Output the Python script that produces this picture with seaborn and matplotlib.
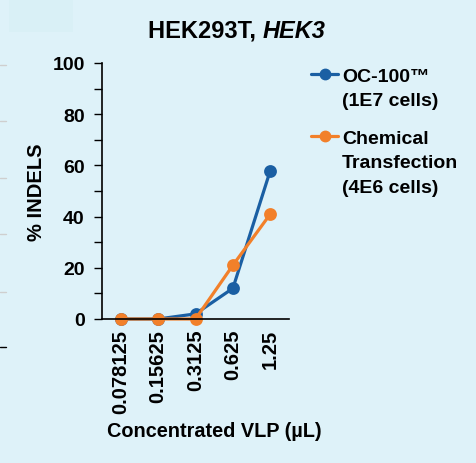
import matplotlib
matplotlib.use("Agg")
import matplotlib.pyplot as plt
import seaborn as sns
import pandas as pd
from matplotlib.lines import Line2D
from matplotlib.patches import Rectangle

concentrations = ["0.078125", "0.15625", "0.3125", "0.625", "1.25"]
oc100_values = [0, 0, 2, 12, 58]
chemical_values = [0, 0, 0, 21, 41]
series_names = ["OC-100\u2122", "Chemical Transfection"]
legend_lines = [["OC-100\u2122", "(1E7 cells)"],
                ["Chemical", "Transfection", "(4E6 cells)"]]
y_ticks = [0, 20, 40, 60, 80, 100]

BG = "#def2f9"
BLUE = "#1a5fa3"
ORANGE = "#f2802a"
FS = 14

sns.set_theme(style="white")
plt.rcParams["font.family"] = ["Liberation Sans", "DejaVu Sans"]
plt.rcParams["font.weight"] = "bold"
for k in ["text.color", "axes.labelcolor", "xtick.color", "ytick.color"]:
    plt.rcParams[k] = "black"

df = pd.DataFrame({
    "conc": concentrations * 2,
    "indel": oc100_values + chemical_values,
    "series": [series_names[0]] * len(concentrations) + [series_names[1]] * len(concentrations),
})

fig = plt.figure(figsize=(4.76, 4.64), dpi=100, facecolor=BG)
fig.patches.append(Rectangle((9 / 476, 1 - 33 / 464), 64 / 476, 33 / 464,
                             transform=fig.transFigure, facecolor="#d9f0f6",
                             edgecolor="none", zorder=0))
ax = fig.add_axes([102 / 476, 1 - 320 / 464, 187 / 476, 256 / 464])
ax.set_facecolor(BG)

sns.pointplot(data=df, x="conc", y="indel", hue="series", order=concentrations,
              hue_order=series_names, palette=[BLUE, ORANGE], markers="o",
              linestyles="-", markersize=7.5, linewidth=2.3, ax=ax, legend=False)

ax.set_xlim(-0.5, 4.5)
ax.set_ylim(0, 100)
ax.set_yticks(y_ticks)
ax.set_yticks(range(10, 100, 20), minor=True)
ax.tick_params(axis="y", which="both", direction="out", length=5.5, width=1,
               color="black", left=True, labelsize=FS, pad=7)
ax.tick_params(axis="x", length=0, labelsize=14.5, pad=7, labelrotation=90)
for lab in ax.get_xticklabels() + ax.get_yticklabels():
    lab.set_fontweight("bold")
for s in ["top", "right"]:
    ax.spines[s].set_visible(False)
for s in ["left", "bottom"]:
    ax.spines[s].set_color("black")
    ax.spines[s].set_linewidth(1.2)
for line in ax.lines:
    line.set_clip_on(False)
for coll in ax.collections:
    coll.set_clip_on(False)

ax.set_xlabel("Concentrated VLP (\u00b5L)", fontsize=14.3, fontweight="bold")
ax.set_ylabel("% INDELS", fontsize=14.5, fontweight="bold")
ax.xaxis.set_label_coords((214 - 102) / 187, -(432 - 320) / 256)
ax.yaxis.set_label_coords(-(102 - 37) / 187, 0.5)
ax.xaxis.label.set_va("center")
ax.yaxis.label.set_va("center")

# Title with italic gene name
t1 = fig.text(148 / 476, 1 - 31 / 464, "HEK293T, ", fontsize=17,
              fontweight="bold", ha="left", va="center")
fig.canvas.draw()
ax.annotate("HEK3", xy=(1, 0), xycoords=t1, va="bottom", ha="left",
            fontsize=17, fontweight="bold", style="italic",
            annotation_clip=False)

handles = [Line2D([], [], color=BLUE, marker="o", markersize=7.5, linewidth=2.3),
           Line2D([], [], color=ORANGE, marker="o", markersize=7.5, linewidth=2.3)]
leg = fig.legend(handles, [l[0] for l in legend_lines], loc="upper left",
                 bbox_to_anchor=(311 / 476, 1 - 68 / 464), frameon=False,
                 fontsize=FS, handlelength=1.4, handletextpad=0.2,
                 labelspacing=2.3, borderaxespad=0, borderpad=0)
fig.canvas.draw()
for txt, lines in zip(leg.get_texts(), legend_lines):
    txt.set_fontweight("bold")
    for k, extra in enumerate(lines[1:], start=1):
        fig.add_artist(plt.Annotation(extra, xy=(0, 0), xycoords=txt,
                                      xytext=(0, -24.5 * k), textcoords="offset pixels",
                                      ha="left", va="bottom", fontsize=FS,
                                      fontweight="bold"))

# left-edge decorative marks
for yy, col in [(66, "#cfcfcf"), (122, "#cfcfcf"), (179, "#cfcfcf"),
                (235, "#cfcfcf"), (293, "#cfcfcf"), (348, "#000000")]:
    fig.add_artist(Line2D([0, 6 / 476], [1 - yy / 464] * 2, color=col,
                          linewidth=1, transform=fig.transFigure))

fig.savefig("out.png", dpi=100, facecolor=BG)
